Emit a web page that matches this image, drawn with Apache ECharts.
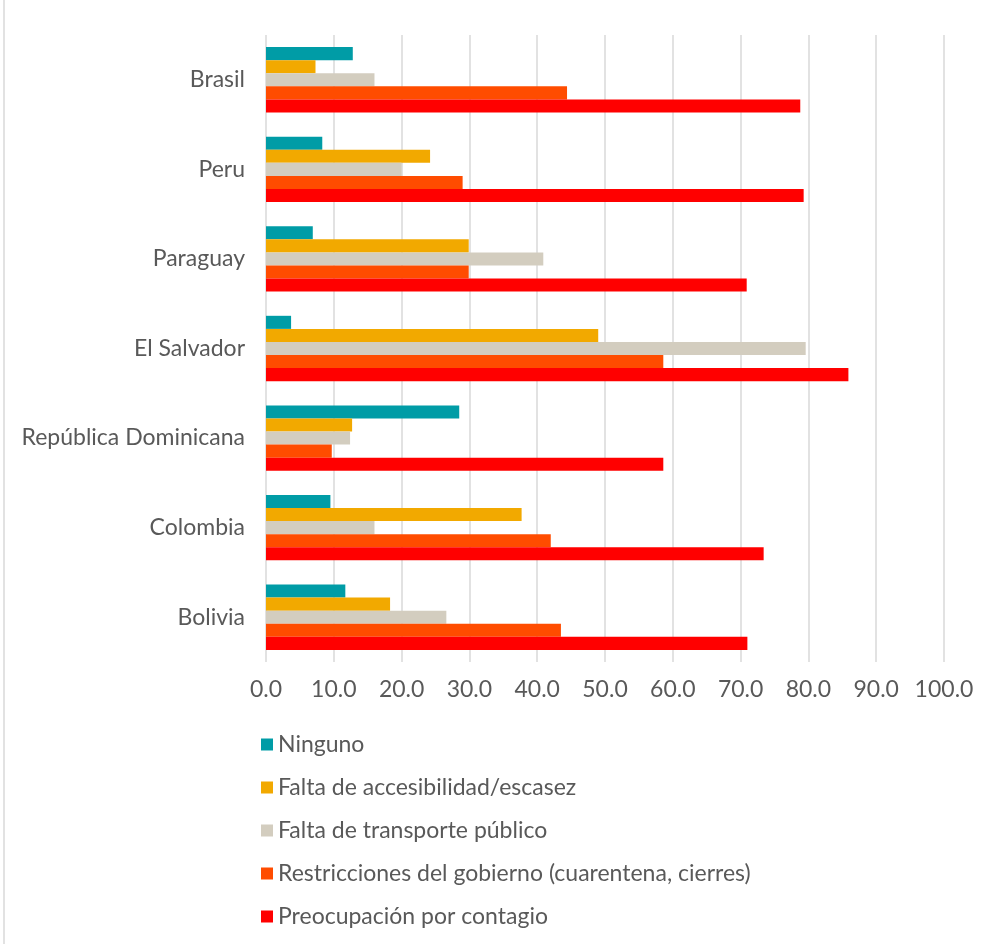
<!DOCTYPE html>
<html>
<head>
<meta charset="utf-8">
<script src="https://cdn.jsdelivr.net/npm/echarts@6/dist/echarts.min.js"></script>
<style>
  html, body { margin: 0; padding: 0; background: #ffffff; }
  #chart { width: 986px; height: 944px; }
</style>
</head>
<body>
<div id="chart"></div>
<script>
// Countries, listed bottom to top as the category axis draws them
const countries = ['Bolivia', 'Colombia', 'República Dominicana', 'El Salvador', 'Paraguay', 'Peru', 'Brasil'];

// Share of respondents (%) per reason, same order as countries
const ninguno        = [11.7,  9.5, 28.5,  3.7,  6.9,  8.3, 12.8];
const accesibilidad  = [18.3, 37.7, 12.7, 49.0, 29.9, 24.2,  7.3];
const transporte     = [26.6, 16.0, 12.4, 79.6, 40.9, 20.0, 16.0];
const restricciones  = [43.5, 42.0,  9.7, 58.6, 29.9, 29.0, 44.4];
const contagio       = [71.0, 73.4, 58.6, 85.9, 70.9, 79.3, 78.8];

const seriesNames = [
  'Ninguno',
  'Falta de accesibilidad/escasez',
  'Falta de transporte público',
  'Restricciones del gobierno (cuarentena, cierres)',
  'Preocupación por contagio'
];
const seriesData = [ninguno, accesibilidad, transporte, restricciones, contagio];
const seriesColors = ['#009CA6', '#F2A900', '#D3CDBF', '#FF4C00', '#FF0000'];

const FONT = 'Lato';
const TEXT = '#595959';
const SIZE = 23;

const chart = echarts.init(document.getElementById('chart'), null, { renderer: 'canvas' });

chart.setOption({
  animation: false,
  backgroundColor: '#ffffff',
  textStyle: { fontFamily: FONT, color: TEXT },
  grid: { left: 266, right: 42, top: 35, bottom: 282, containLabel: false },
  legend: {
    orient: 'vertical',
    left: 256,
    top: 728,
    itemWidth: 12,
    itemHeight: 12,
    itemGap: 20,
    icon: 'rect',
    data: seriesNames,
    textStyle: { fontFamily: FONT, fontSize: SIZE, color: TEXT }
  },
  xAxis: {
    type: 'value',
    min: 0,
    max: 100,
    interval: 10,
    axisLine: { show: false },
    axisTick: { show: false },
    splitLine: { show: true, lineStyle: { color: '#D9D9D9', width: 1.5 } },
    axisLabel: {
      fontFamily: FONT, fontSize: SIZE, color: TEXT, margin: 16,
      formatter: v => v.toFixed(1)
    }
  },
  yAxis: {
    type: 'category',
    data: countries,
    axisLine: { show: false },
    axisTick: { show: false },
    axisLabel: { fontFamily: FONT, fontSize: SIZE, color: TEXT, margin: 21 }
  },
  series: seriesNames.map((name, i) => ({
    name,
    type: 'bar',
    data: seriesData[i],
    barGap: '0%',
    barCategoryGap: '27%',
    itemStyle: { color: seriesColors[i] }
  })),
  graphic: [{
    type: 'line',
    shape: { x1: 4, y1: 0, x2: 4, y2: 944 },
    style: { stroke: '#D9D9D9', lineWidth: 1.5 }
  }]
});
</script>
</body>
</html>
